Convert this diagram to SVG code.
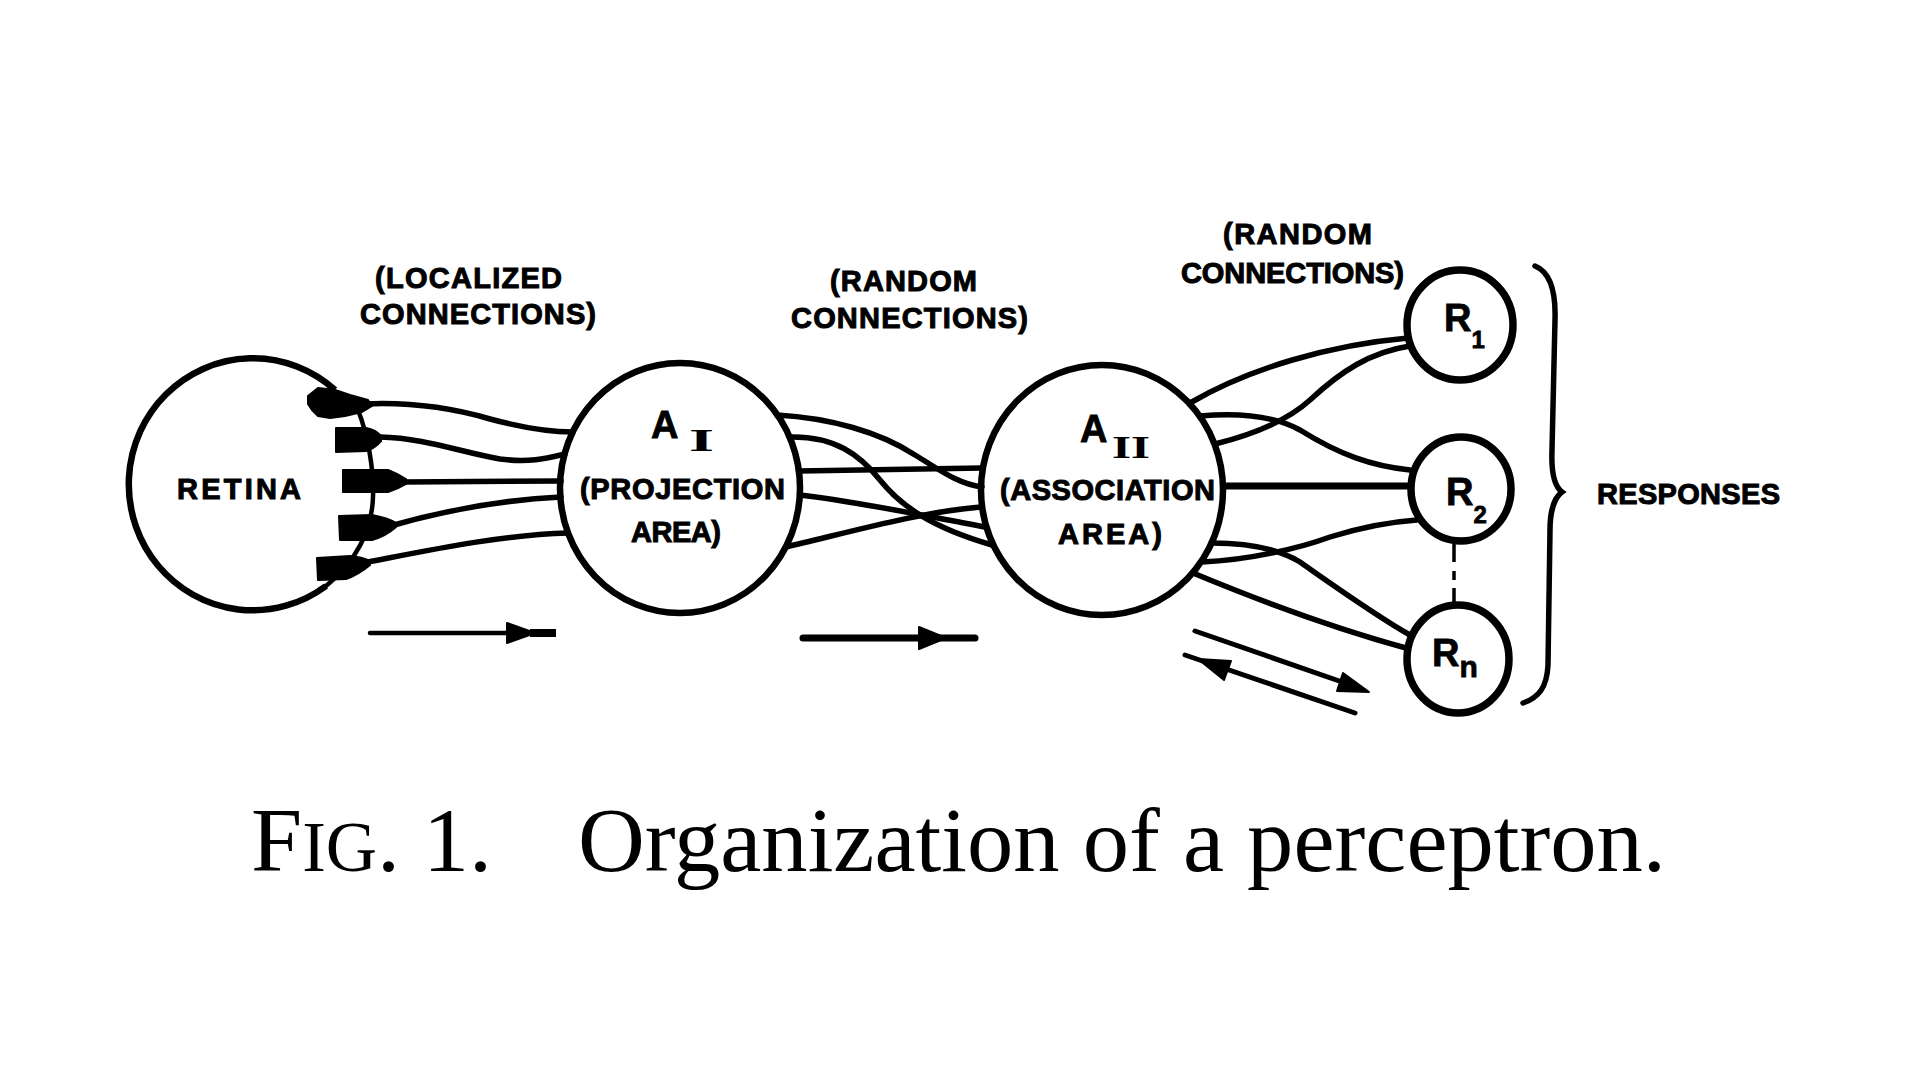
<svg xmlns="http://www.w3.org/2000/svg" width="1920" height="1080" viewBox="0 0 1920 1080">
<style>
.node{fill:none;stroke:#000;stroke-width:6.5}
.rnode{fill:none;stroke:#000;stroke-width:7.5}
.conn{fill:none;stroke:#000;stroke-width:5.5;stroke-linecap:round}
.blk{fill:#000;stroke:#000;stroke-width:2;stroke-linejoin:round}
.lbl{font-family:"Liberation Sans",Arial,sans-serif;font-weight:bold;font-size:29px;fill:#000;stroke:#000;stroke-width:1}
.rl{font-family:"Liberation Sans",Arial,sans-serif;font-weight:bold;font-size:38px;fill:#000;stroke:#000;stroke-width:0.8}
.rom{font-family:"Liberation Serif","Times New Roman",serif;font-weight:bold;font-size:32px;fill:#000}
.cap{font-family:"Liberation Serif","Times New Roman",serif;font-size:92px;fill:#000}
</style>
<rect width="1920" height="1080" fill="#fff"/>

<g id="connectors">
  <!-- retina to A-I (localized) -->
  <path class="conn" d="M365,404 C410,402 452,408 490,419 C520,427 545,432 573,432"/>
  <path class="conn" d="M380,437 C425,438 460,452 500,459 C530,463 548,458 565,454"/>
  <path class="conn" d="M404,482 L561,481"/>
  <path class="conn" d="M394,525 C440,512 500,500 561,497"/>
  <path class="conn" d="M368,562 C430,550 500,535 568,533"/>
  <!-- A-I to A-II (random) -->
  <path class="conn" d="M777,415 C830,418 880,432 915,455 C940,470 958,484 982,487"/>
  <path class="conn" d="M790,437 C835,436 860,455 880,480 C900,505 930,527 992,545"/>
  <path class="conn" d="M799,471 L982,468"/>
  <path class="conn" d="M800,495 C860,502 920,515 985,527"/>
  <path class="conn" d="M786,547 C850,532 920,512 981,507"/>
  <!-- A-II to responses (random) -->
  <path class="conn" d="M1190,403 C1250,368 1330,345 1408,338"/>
  <path class="conn" d="M1200,416 C1245,412 1278,418 1300,430 C1340,455 1372,466 1410,470"/>
  <path class="conn" d="M1215,444 C1255,434 1288,420 1310,400 C1340,372 1370,352 1410,346"/>
  <path class="conn" style="stroke-width:7" d="M1224,486 L1407,486"/>
  <path class="conn" d="M1202,562 C1250,560 1300,548 1330,537 C1362,527 1388,522 1417,520"/>
  <path class="conn" d="M1212,543 C1250,543 1280,550 1300,562 C1340,590 1375,615 1410,635"/>
  <path class="conn" d="M1193,573 C1270,605 1340,630 1406,648"/>
  <!-- dashed link R2 .. Rn -->
  <path class="conn" style="stroke-width:3.5;stroke-linecap:butt" d="M1454,544 L1454,562 M1454,571 L1454,580 M1454,588 L1454,605"/>
  <!-- direction arrows -->
  <path class="conn" style="stroke-width:4.5" d="M370,633 L510,633"/>
  <path class="conn" style="stroke-width:8;stroke-linecap:butt" d="M530,633 L556,633"/>
  <polygon class="blk" points="507,623 535,633 507,643"/>
  <path class="conn" style="stroke-width:7" d="M803,638 L975,638"/>
  <polygon class="blk" points="919,627 946,638 919,649"/>
  <path class="conn" style="stroke-width:5" d="M1195,631 L1345,683"/>
  <polygon class="blk" points="1369,692 1337,691 1343,673"/>
  <path class="conn" style="stroke-width:5" d="M1185,655 L1355,713"/>
  <polygon class="blk" points="1198,659 1224,680 1231,661"/>
</g>

<g id="retina">
  <path class="node" d="M335,390 A124,126 0 1 0 326,586"/>
  <path class="conn" style="stroke-width:4.5" d="M358,410 C368,435 374,470 373,497 C372,530 356,562 326,586"/>
  <polygon class="blk" points="308,396 318,388 335,390 350,395 368,400 372,406 362,412 345,416 330,418 318,416 312,410 308,404"/>
  <path class="blk" d="M336,428 L366,428 Q376,430 381,436 L381,441 Q374,449 366,451 L336,452 Z"/>
  <path class="blk" d="M343,470 L388,470 Q398,474 406,479 L406,484 Q398,489 388,492 L343,492 Z"/>
  <path class="blk" d="M339,516 L372,515 Q388,518 396,523 L396,527 Q386,536 372,540 L340,540 Z"/>
  <path class="blk" d="M317,558 L350,556 Q362,557 370,561 L370,565 Q358,575 346,579 L318,580 Z"/>
  <text class="lbl" x="177" y="499" font-size="31" textLength="124" lengthAdjust="spacing">RETINA</text>
</g>

<g id="a1">
  <ellipse class="node" cx="680" cy="488" rx="120" ry="125"/>
  <text class="rl" x="651" y="438" font-size="34">A</text>
  <text class="rom" x="689" y="451" textLength="25" lengthAdjust="spacingAndGlyphs">I</text>
  <text class="lbl" x="580" y="499" textLength="205" lengthAdjust="spacing">(PROJECTION</text>
  <text class="lbl" x="631" y="542" textLength="90" lengthAdjust="spacing">AREA)</text>
</g>

<g id="a2">
  <ellipse class="node" cx="1102" cy="490" rx="121" ry="125"/>
  <text class="rl" x="1080" y="442" font-size="34">A</text>
  <text class="rom" x="1112" y="458" textLength="38" lengthAdjust="spacingAndGlyphs">II</text>
  <text class="lbl" x="1000" y="500" textLength="215" lengthAdjust="spacing">(ASSOCIATION</text>
  <text class="lbl" x="1058" y="544" textLength="104" lengthAdjust="spacing">AREA)</text>
</g>

<g id="r1">
  <ellipse class="rnode" cx="1460" cy="325" rx="53" ry="55"/>
  <text class="rl" x="1444" y="331">R<tspan font-size="24" dy="17">1</tspan></text>
</g>
<g id="r2">
  <ellipse class="rnode" cx="1461" cy="489" rx="50" ry="52"/>
  <text class="rl" x="1446" y="505">R<tspan font-size="24" dy="18">2</tspan></text>
</g>
<g id="rn">
  <ellipse class="rnode" cx="1458" cy="659" rx="51" ry="54"/>
  <text class="rl" x="1432" y="666">R<tspan font-size="30" dy="11">n</tspan></text>
</g>

<g id="responses">
  <path class="conn" style="stroke-width:5.5" d="M1535,266 C1550,272 1556,290 1555,320 L1552,450 C1551,475 1555,487 1562,492 C1555,497 1550,510 1550,530 L1548,665 C1547,688 1538,698 1523,703"/>
  <text class="lbl" x="1597" y="504" textLength="183" lengthAdjust="spacing">RESPONSES</text>
</g>

<g id="labels">
  <text class="lbl" x="375" y="288" textLength="187" lengthAdjust="spacing">(LOCALIZED</text>
  <text class="lbl" x="360" y="324" textLength="236" lengthAdjust="spacing">CONNECTIONS)</text>
  <text class="lbl" x="830" y="291" textLength="147" lengthAdjust="spacing">(RANDOM</text>
  <text class="lbl" x="791" y="328" textLength="237" lengthAdjust="spacing">CONNECTIONS)</text>
  <text class="lbl" x="1223" y="244" textLength="149" lengthAdjust="spacing">(RANDOM</text>
  <text class="lbl" x="1181" y="283" textLength="223" lengthAdjust="spacing">CONNECTIONS)</text>
</g>

<g id="caption">
  <text class="cap" x="251" y="871">F<tspan font-size="71">IG</tspan>. 1.</text>
  <text class="cap" x="578" y="871" textLength="1088" lengthAdjust="spacingAndGlyphs">Organization of a perceptron.</text>
</g>
</svg>
